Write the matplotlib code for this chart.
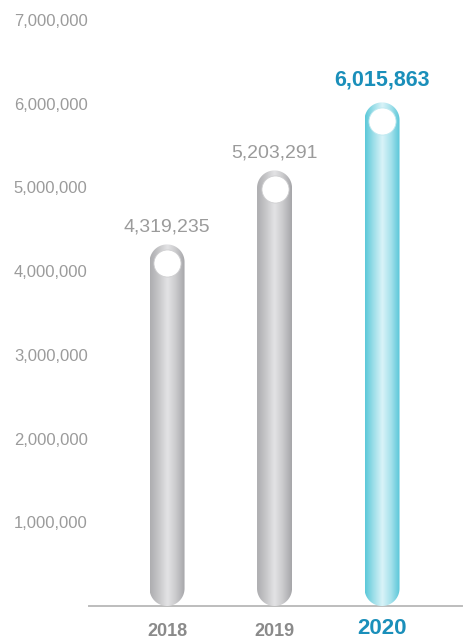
import numpy as np
import matplotlib
matplotlib.use("Agg")
import matplotlib.pyplot as plt
from matplotlib.path import Path
from matplotlib.patches import PathPatch
from matplotlib.transforms import offset_copy, blended_transform_factory
from matplotlib.colors import LinearSegmentedColormap

plt.rcParams['font.family'] = ['Liberation Sans', 'DejaVu Sans']

# ---- data ----
years = ["2018", "2019", "2020"]
values = [4319235, 5203291, 6015863]
highlight = [False, False, True]
yticks = [1000000, 2000000, 3000000, 4000000, 5000000, 6000000, 7000000]

# ---- style ----
W, H, DPI = 4.67, 6.41, 100
gray_text = "#9b9b9b"
year_gray = "#8a8a8a"
blue_text = "#1a8fba"
gray_grad = ["#adadb0", "#c6c6c8", "#e3e3e5", "#c9c9cb", "#a6a6a9"]
cyan_grad = ["#5ac8d9", "#9edfe9", "#d9f3f8", "#a4e1eb", "#58c6d8"]
bar_px = 35.0

fig = plt.figure(figsize=(W, H), dpi=DPI)
fig.patch.set_facecolor("white")
ax_left, ax_right = 89 / 467, 462 / 467
ax_bottom, ax_top = (641 - 606) / 641, (641 - 20) / 641
ax = fig.add_axes([ax_left, ax_bottom, ax_right - ax_left, ax_top - ax_bottom])
xs = np.arange(len(years))
ax.set_xlim(-0.726, 2.744)
ax.set_ylim(0, 7000000)

# pixel scale
sx = (ax_right - ax_left) * W * DPI / (2.744 + 0.726)
sy = (ax_top - ax_bottom) * H * DPI / 7000000
hw = bar_px / 2 / sx          # half width in data units
ry = bar_px / 2 / sy          # cap radius in y data units


def capsule(xc, top):
    t = np.linspace(0, np.pi, 40)
    top_x = xc - hw * np.cos(t)
    top_y = (top - ry) + ry * np.sin(t)
    bot_x = xc + hw * np.cos(t)
    bot_y = ry - ry * np.sin(t)
    px = np.concatenate([top_x, bot_x, [top_x[0]]])
    py = np.concatenate([top_y, bot_y, [top_y[0]]])
    verts = np.column_stack([px, py])
    codes = [Path.MOVETO] + [Path.LINETO] * (len(verts) - 2) + [Path.CLOSEPOLY]
    return Path(verts, codes)


grad = np.linspace(0, 1, 256).reshape(1, -1)
for x, v, hl in zip(xs, values, highlight):
    cmap = LinearSegmentedColormap.from_list("g", cyan_grad if hl else gray_grad)
    patch = PathPatch(capsule(x, v), facecolor="none", edgecolor="none", zorder=3)
    ax.add_patch(patch)
    im = ax.imshow(grad, cmap=cmap, extent=[x - hw, x + hw, 0, v],
                   aspect="auto", zorder=3, interpolation="bilinear")
    im.set_clip_path(patch)
    # white circle near top
    tr = offset_copy(ax.transData, fig=fig, x=0, y=-18.5 * 72 / DPI, units="points")
    ax.plot([x], [v], marker="o", markersize=19.5, color="white",
            markeredgecolor="#cfcfd1" if not hl else "#bfe9f0",
            markeredgewidth=0.6, transform=tr, zorder=5)
    # value label
    trl = offset_copy(ax.transData, fig=fig, x=0, y=(22 if hl else 17) * 72 / DPI, units="points")
    ax.text(x, v, f"{v:,}", transform=trl, ha="center", va="center",
            fontsize=15.5 if hl else 14, fontweight="bold" if hl else "normal",
            color=blue_text if hl else gray_text, zorder=6)

ax.set_xlim(-0.726, 2.744)
ax.set_ylim(0, 7000000)

# axes styling
for s in ["left", "right", "top"]:
    ax.spines[s].set_visible(False)
ax.spines["bottom"].set_color("#bdbdbd")
ax.spines["bottom"].set_linewidth(1.4)
ax.spines["bottom"].set_zorder(2)

ax.set_yticks(yticks)
ax.set_yticklabels([f"{t:,}" for t in yticks])
ax.tick_params(axis="y", length=0, pad=1, labelsize=12, labelcolor=gray_text)

# year labels as centred texts below the baseline
ax.set_xticks(xs)
ax.set_xticklabels([])
ax.tick_params(axis="x", length=0)
btr = blended_transform_factory(ax.transData, ax.transAxes)
for x, yr, hl in zip(xs, years, highlight):
    ytr = offset_copy(btr, fig=fig, x=0, y=-(22 if hl else 25) * 72 / DPI, units="points")
    ax.text(x, 0, yr, transform=ytr, ha="center", va="center", fontweight="bold",
            fontsize=16 if hl else 13, color=blue_text if hl else year_gray,
            clip_on=False)

fig.savefig("out.png", dpi=DPI, facecolor="white")
